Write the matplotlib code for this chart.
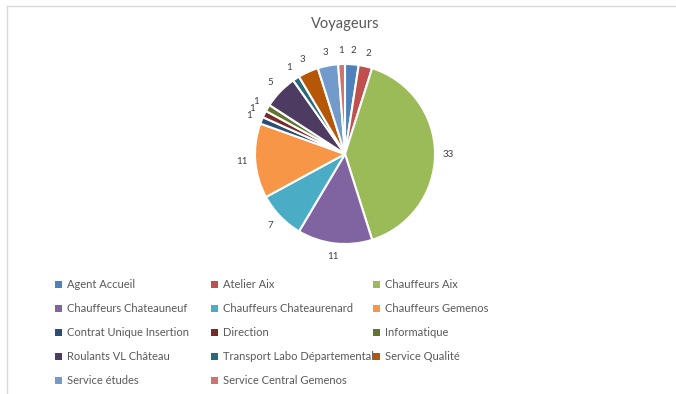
import matplotlib
matplotlib.use("Agg")
import matplotlib.pyplot as plt
from matplotlib.patches import Patch
from matplotlib.lines import Line2D

plt.rcParams['font.family'] = ['Lato', 'DejaVu Sans']

categories = [
    "Agent Accueil", "Atelier Aix", "Chauffeurs Aix",
    "Chauffeurs Chateauneuf", "Chauffeurs Chateaurenard", "Chauffeurs Gemenos",
    "Contrat Unique Insertion", "Direction", "Informatique",
    "Roulants VL Château", "Transport Labo Départemental", "Service Qualité",
    "Service études", "Service Central Gemenos",
]
values = [2, 2, 33, 11, 7, 11, 1, 1, 1, 5, 1, 3, 3, 1]
colors = [
    "#4F81BD", "#C0504D", "#9BBB59", "#8064A2", "#4BACC6", "#F79646",
    "#2C4D75", "#772C2A", "#5F7530", "#4D3B62", "#276A7C", "#B65708",
    "#729ACA", "#CD7371",
]

W, H = 676, 394
fig = plt.figure(figsize=(W / 100, H / 100), dpi=100)
ax = fig.add_axes([0, 0, 1, 1])

# chart frame (top and left edges visible)
ax.add_line(Line2D([6.5, 6.5], [-5, H - 5.5], color="#d9d9d9", lw=1.0))
ax.add_line(Line2D([6.5, W + 5], [H - 5.5, H - 5.5], color="#d9d9d9", lw=1.0))

wedges, texts = ax.pie(
    values, colors=colors, labels=[str(v) for v in values],
    startangle=90, counterclock=False, center=(345, H - 154), radius=90,
    labeldistance=1.15, frame=True,
    wedgeprops=dict(edgecolor="white", linewidth=1.5),
    textprops=dict(fontsize=7, color="#404040"),
)
for t in texts:
    t.set_ha('center')
    t.set_va('center')
ax.set_xlim(0, W)
ax.set_ylim(0, H)
ax.set_aspect('equal')
ax.axis('off')

ax.text(345, H - 24, "Voyageurs", ha='center', va='center',
        fontsize=10.5, color="#595959")

# legend: three fixed-width columns, filled row by row
col_x = [55, 211, 373]
for c in range(3):
    idx = list(range(c, len(categories), 3))
    handles = [Patch(facecolor=colors[i], edgecolor='none') for i in idx]
    labels = [categories[i] for i in idx]
    fig.legend(handles, labels, loc='upper left',
               bbox_to_anchor=(col_x[c] / W, 1 - 279 / H),
               frameon=False, fontsize=8.0, labelcolor="#595959",
               handlelength=0.6, handleheight=0.6, handletextpad=0.45,
               labelspacing=1.17, borderpad=0, borderaxespad=0)

fig.savefig("out.png", dpi=100)
